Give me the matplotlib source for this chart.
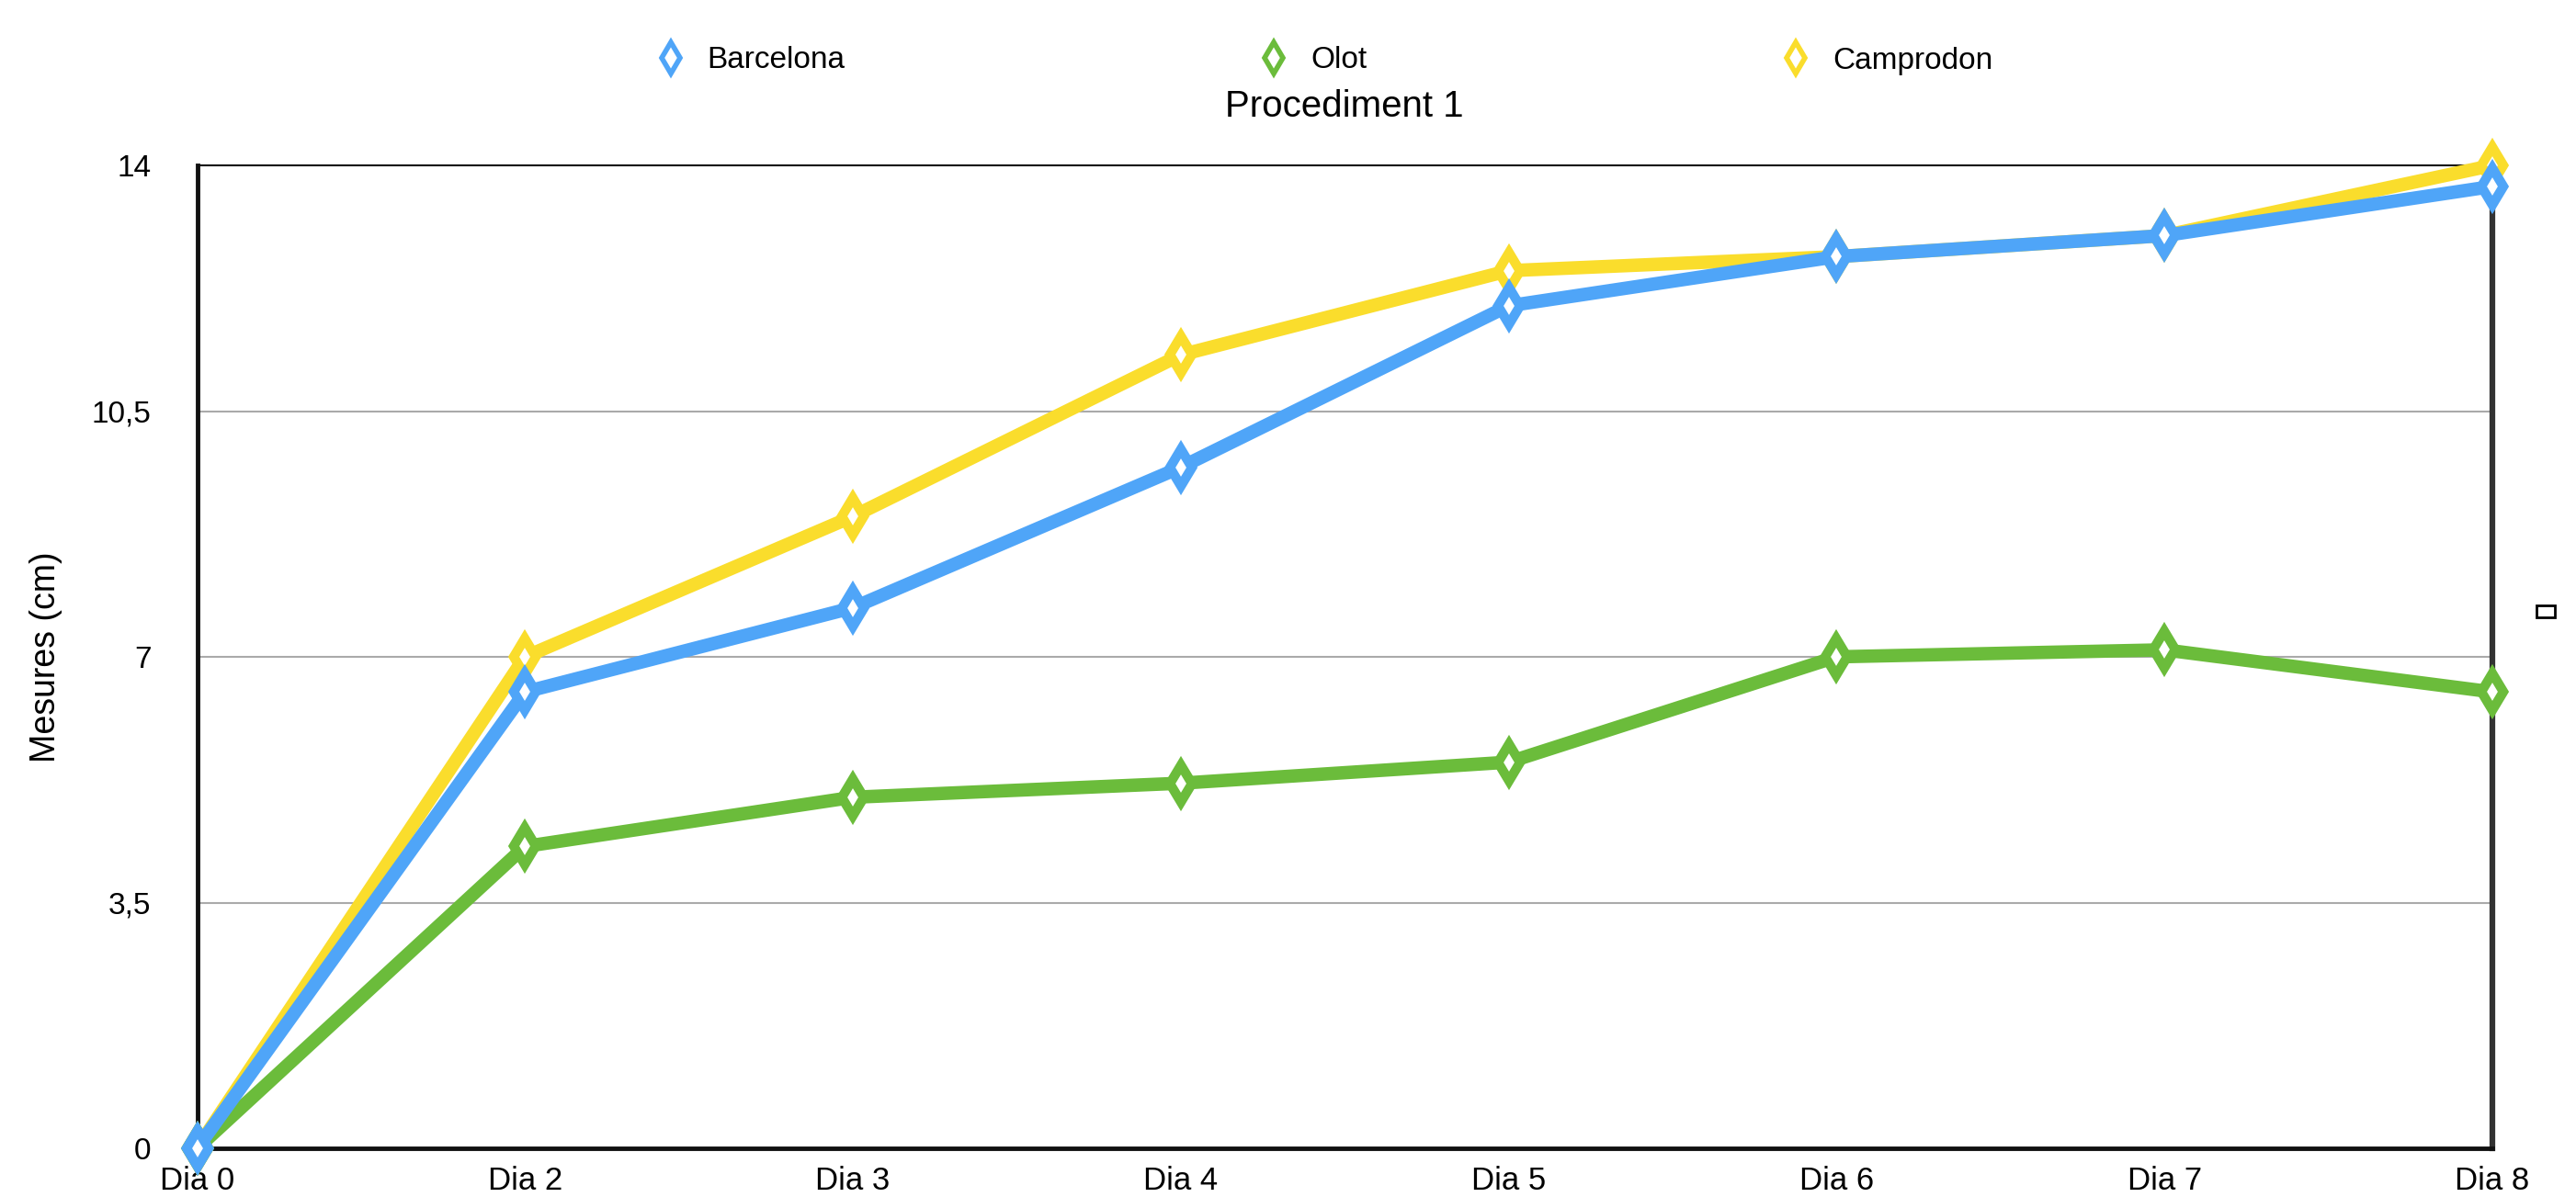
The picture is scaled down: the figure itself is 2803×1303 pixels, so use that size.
import matplotlib
matplotlib.use("Agg")
import matplotlib.pyplot as plt
from matplotlib import font_manager
from matplotlib.lines import Line2D
from matplotlib.patches import Rectangle

names = {f.name for f in font_manager.fontManager.ttflist}
fam = "Liberation Sans Narrow" if "Liberation Sans Narrow" in names else "Liberation Sans"
plt.rcParams["font.family"] = [fam, "DejaVu Sans"]

categories = ["Dia 0", "Dia 2", "Dia 3", "Dia 4", "Dia 5", "Dia 6", "Dia 7", "Dia 8"]
barcelona = [0, 6.5, 7.7, 9.7, 12.0, 12.7, 13.0, 13.7]
olot = [0, 4.3, 5.0, 5.2, 5.5, 7.0, 7.1, 6.5]
camprodon = [0, 7.0, 9.0, 11.3, 12.5, 12.7, 13.0, 14.0]
yticks = [0, 3.5, 7, 10.5, 14]
yticklabels = ["0", "3,5", "7", "10,5", "14"]

c_bcn = "#4FA5F8"
c_olot = "#6BBC3B"
c_camp = "#FADD2C"

W, H = 2803, 1303
fig = plt.figure(figsize=(W / 100, H / 100), dpi=100)
ax = fig.add_axes([214.5 / W, 1 - 1250 / H, (2712 - 214.5) / W, (1250 - 180) / H])

x = list(range(len(categories)))
series = [("Camprodon", camprodon, c_camp), ("Olot", olot, c_olot), ("Barcelona", barcelona, c_bcn)]
for name, vals, col in series:
    ax.plot(x, vals, color=col, lw=10.5, marker="d", markersize=20, markerfacecolor="white",
            markeredgecolor=col, markeredgewidth=7.5, clip_on=False, zorder=3, solid_joinstyle="round")

ax.set_xlim(0, len(categories) - 1)
ax.set_ylim(0, 14)
ax.set_xticks(x)
ax.set_xticklabels(categories, fontsize=25)
ax.set_yticks(yticks)
ax.set_yticklabels(yticklabels, fontsize=24)
ax.tick_params(axis="both", length=0)
ax.tick_params(axis="x", pad=14)
ax.tick_params(axis="y", pad=36)
ax.yaxis.grid(True, color="#AAAAAA", lw=1.5)
ax.set_axisbelow(True)
ax.set_ylabel("Mesures (cm)", fontsize=27)
ax.yaxis.set_label_coords((68 - 214.5) / (2712 - 214.5), 0.5)

for s in ["left", "bottom"]:
    ax.spines[s].set_linewidth(3.5)
    ax.spines[s].set_color("#111111")
ax.spines["top"].set_linewidth(1.5)
ax.spines["top"].set_color("#111111")
ax.spines["right"].set_linewidth(4.5)
ax.spines["right"].set_color("#333333")

handles = [Line2D([], [], ls="none", marker="d", markersize=17, markerfacecolor="white",
                  markeredgecolor=c, markeredgewidth=4) for c in (c_bcn, c_olot, c_camp)]
fig.legend(handles, ["Barcelona", "Olot", "Camprodon"], loc="center left",
           bbox_to_anchor=(713 / W, 1 - 66 / H), ncol=3, frameon=False, fontsize=24,
           handlelength=1.0, handletextpad=0.7, columnspacing=13.5, borderpad=0, borderaxespad=0)

fig.text((214.5 + 2712) / 2 / W, 1 - 116 / H, "Procediment 1", ha="center", va="center", fontsize=29)

fig.patches.append(Rectangle((2760 / W, 1 - 672 / H), 20 / W, 13 / H, transform=fig.transFigure,
                             fill=False, edgecolor="black", lw=2))

fig.savefig("out.png", dpi=100)
